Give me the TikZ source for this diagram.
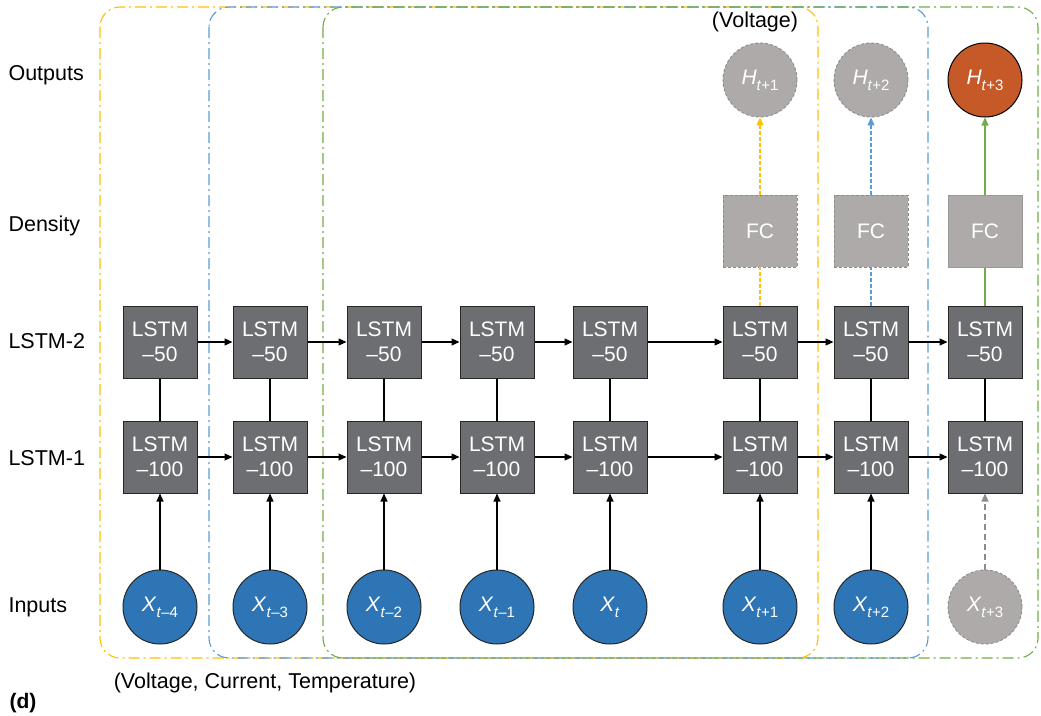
\documentclass[tikz,border=0pt]{standalone}
\usepackage{fontspec}
\setmainfont{Liberation Sans}
\usetikzlibrary{arrows.meta}
\definecolor{lstmgray}{HTML}{6D6E71}
\definecolor{fcgray}{HTML}{AEAAAA}
\definecolor{inblue}{HTML}{2E75B6}
\definecolor{outorange}{HTML}{C55A28}
\definecolor{fyellow}{HTML}{FFC000}
\definecolor{fblue}{HTML}{5B9BD5}
\definecolor{fgreen}{HTML}{70AD47}
\newcommand\lab[3]{\textit{#1}\raisebox{-6pt}{\fontsize{15}{15}\selectfont\textit{#2}#3}}
\tikzset{
  lstm/.style={draw=black!85, line width=1pt, fill=lstmgray, minimum width=74pt, minimum height=72pt, inner sep=0pt, text=white, align=center, font=\fontsize{21}{25}\selectfont},
  fcbox/.style={fill=fcgray, minimum width=74pt, minimum height=72pt, inner sep=0pt, text=white, font=\fontsize{21}{25}\selectfont},
  fcdash/.style={fcbox, draw=black!45, dash pattern=on 3pt off 2pt, line width=0.9pt},
  fcsolid/.style={fcbox, draw=black!40, line width=1pt},
  incirc/.style={circle, draw=black!85, line width=1pt, fill=inblue, minimum size=74pt, inner sep=0pt, text=white, font=\fontsize{21}{24}\selectfont},
  ghost/.style={circle, draw=black!45, dash pattern=on 3pt off 2pt, line width=0.9pt, fill=fcgray, minimum size=74pt, inner sep=0pt, text=white, font=\fontsize{21}{24}\selectfont},
  outcirc/.style={circle, draw=black, line width=1pt, fill=outorange, minimum size=74pt, inner sep=0pt, text=white, font=\fontsize{21}{24}\selectfont},
  rowlab/.style={anchor=west, font=\fontsize{21.5}{24}\selectfont},
  frame/.style={line width=1.1pt, rounded corners=20pt, dash pattern=on 11pt off 4pt on 2pt off 4pt},
  arr/.style={line width=1.1pt, -{Triangle[length=8pt,width=7pt]}},
  link/.style={line width=1.25pt},
}
\begin{document}
\begin{tikzpicture}[x=1pt,y=-1pt]
\useasboundingbox (0,0) rectangle (1041,715);
% frames
\draw[frame, fyellow] (100,7) rectangle (818,658);
\draw[frame, fblue] (209,7) rectangle (928,658);
\draw[frame, fgreen] (323,7) rectangle (1038,658);
% row labels
\node[rowlab] (lo) at (5,75) {Outputs};
\node[rowlab] (ld) at (5,226) {Density};
\node[rowlab] (l2) at (5,341) {LSTM-2};
\node[rowlab] (l1) at (5,458) {LSTM-1};
\node[rowlab] (li) at (5,607) {Inputs};
% columns
\foreach \i/\x in {1/160,2/270,3/384,4/497,5/610,6/760,7/871,8/985}{
  \node[lstm] (b\i) at (\x,342) {LSTM\\–50};
  \node[lstm] (a\i) at (\x,457) {LSTM\\–100};
  \draw[link] (b\i) -- (a\i);
}
\node[incirc] (x1) at (160,607) {\lab{X}{t}{–4}};
\node[incirc] (x2) at (270,607) {\lab{X}{t}{–3}};
\node[incirc] (x3) at (384,607) {\lab{X}{t}{–2}};
\node[incirc] (x4) at (497,607) {\lab{X}{t}{–1}};
\node[incirc] (x5) at (610,607) {\lab{X}{t}{}};
\node[incirc] (x6) at (760,607) {\lab{X}{t}{+1}};
\node[incirc] (x7) at (871,607) {\lab{X}{t}{+2}};
\node[ghost] (x8) at (985,607) {\lab{X}{t}{+3}};
\foreach \i in {1,...,7}{\draw[arr] (x\i) -- (a\i);}
\draw[arr, black!45, dash pattern=on 6pt off 4pt] (x8) -- (a8);
\foreach \i/\j in {1/2,2/3,3/4,4/5,5/6,6/7,7/8}{
  \draw[arr] (b\i) -- (b\j);
  \draw[arr] (a\i) -- (a\j);
}
% FC and outputs
\node[fcdash] (f6) at (760,231) {FC};
\node[fcdash] (f7) at (871,231) {FC};
\node[fcsolid] (f8) at (985,231) {FC};
\node[ghost] (h6) at (760,80) {\lab{H}{t}{+1}};
\node[ghost] (h7) at (871,80) {\lab{H}{t}{+2}};
\node[outcirc] (h8) at (985,80) {\lab{H}{t}{+3}};
\draw[link, fyellow, dash pattern=on 4pt off 2pt] (b6) -- (f6);
\draw[arr, fyellow, dash pattern=on 4pt off 2pt] (f6) -- (h6);
\draw[link, fblue, dash pattern=on 4pt off 2pt] (b7) -- (f7);
\draw[arr, fblue, dash pattern=on 4pt off 2pt] (f7) -- (h7);
\draw[link, fgreen] (b8) -- (f8);
\draw[arr, fgreen] (f8) -- (h8);
% texts
\node[font=\fontsize{21.5}{24}\selectfont] (tv) at (755,22) {(Voltage)};
\node[font=\fontsize{21.5}{24}\selectfont] (tin) at (265,683) {(Voltage, Current, Temperature)};
\node[anchor=west, font=\fontsize{21}{24}\selectfont\bfseries] (td) at (6,703) {(d)};
\end{tikzpicture}
\end{document}
